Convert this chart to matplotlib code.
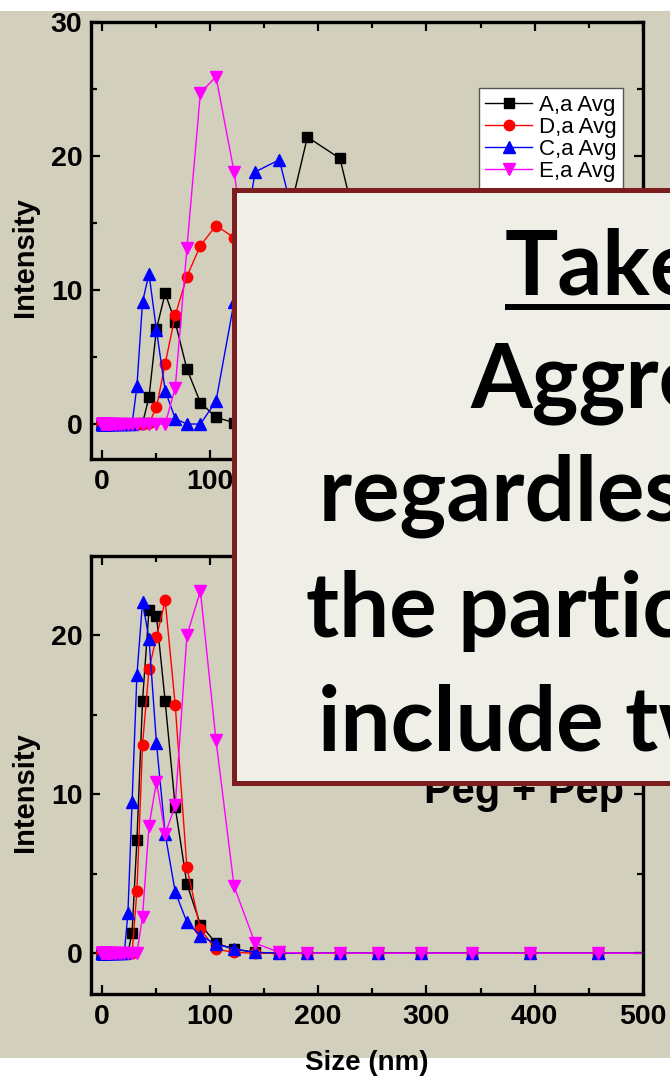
import matplotlib.pyplot as plt
from matplotlib.patches import Rectangle
from matplotlib.lines import Line2D

# DLS size bins (nm)
size_nm = [0.4, 0.4632, 0.5365, 0.6213, 0.7195, 0.8332, 0.9649, 1.117, 1.294, 1.499,
           1.736, 2.01, 2.328, 2.696, 3.122, 3.615, 4.187, 4.849, 5.615, 6.503,
           7.531, 8.721, 10.1, 11.7, 13.54, 15.69, 18.17, 21.04, 24.36, 28.21,
           32.67, 37.84, 43.82, 50.75, 58.77, 68.06, 78.82, 91.28, 105.7, 122.4,
           141.8, 164.2, 190.1, 220.2, 255.0, 295.3, 342.0, 396.1, 458.7, 531.2]

# top panel
top_A = [0, 0, 0, 0, 0, 0, 0, 0, 0, 0, 0, 0, 0, 0, 0, 0, 0, 0, 0, 0,
         0, 0, 0, 0, 0, 0, 0, 0, 0, 0,
         0, 0.05, 2.0, 7.1, 9.75, 7.6, 4.1, 1.6, 0.5, 0.1,
         3.0, 12.5, 21.4, 19.8, 8.1, 1.2, 0.1, 0, 0, 0]
top_D = [0, 0, 0, 0, 0, 0, 0, 0, 0, 0, 0, 0, 0, 0, 0, 0, 0, 0, 0, 0,
         0, 0, 0, 0, 0, 0, 0, 0, 0, 0,
         0, 0, 0.05, 1.24, 4.5, 8.1, 11.0, 13.3, 14.8, 13.9,
         10.5, 6.0, 2.5, 0.7, 0.1, 0, 0, 0, 0, 0]
top_C = [0, 0, 0, 0, 0, 0, 0, 0, 0, 0, 0, 0, 0, 0, 0, 0, 0, 0, 0, 0,
         0, 0, 0, 0, 0, 0, 0, 0, 0, 0,
         2.8, 9.1, 11.2, 7.0, 2.5, 0.4, 0, 0, 1.7, 9.1,
         18.8, 19.7, 11.3, 3.5, 0.6, 0.05, 0, 0, 0, 0]
top_E = [0, 0, 0, 0, 0, 0, 0, 0, 0, 0, 0, 0, 0, 0, 0, 0, 0, 0, 0, 0,
         0, 0, 0, 0, 0, 0, 0, 0, 0, 0,
         0, 0, 0, 0, 0, 2.7, 13.1, 24.7, 25.9, 18.8,
         8.0, 2.0, 0.3, 0, 0, 0, 0, 0, 0, 0]

# bottom panel (Peg + Pep)
bot_A = [0, 0, 0, 0, 0, 0, 0, 0, 0, 0, 0, 0, 0, 0, 0, 0, 0, 0, 0, 0,
         0, 0, 0, 0, 0, 0, 0, 0, 0, 1.3,
         7.1, 15.85, 21.6, 21.2, 15.85, 9.2, 4.36, 1.8, 0.63, 0.25,
         0.05, 0, 0, 0, 0, 0, 0, 0, 0, 0]
bot_D = [0, 0, 0, 0, 0, 0, 0, 0, 0, 0, 0, 0, 0, 0, 0, 0, 0, 0, 0, 0,
         0, 0, 0, 0, 0, 0, 0, 0, 0, 0,
         3.9, 13.1, 17.9, 19.9, 22.2, 15.6, 5.4, 1.5, 0.25, 0.05,
         0, 0, 0, 0, 0, 0, 0, 0, 0, 0]
bot_C = [0, 0, 0, 0, 0, 0, 0, 0, 0, 0, 0, 0, 0, 0, 0, 0, 0, 0, 0, 0,
         0, 0, 0, 0, 0, 0, 0, 0, 2.5, 9.5,
         17.5, 22.1, 19.8, 13.2, 7.5, 3.85, 1.96, 1.1, 0.57, 0.27,
         0.05, 0, 0, 0, 0, 0, 0, 0, 0, 0]
bot_E = [0, 0, 0, 0, 0, 0, 0, 0, 0, 0, 0, 0, 0, 0, 0, 0, 0, 0, 0, 0,
         0, 0, 0, 0, 0, 0, 0, 0, 0, 0,
         0, 2.3, 8.0, 10.8, 7.5, 9.3, 20.0, 22.8, 13.4, 4.2,
         0.63, 0.05, 0, 0, 0, 0, 0, 0, 0, 0]

labels = ['A,a Avg', 'D,a Avg', 'C,a Avg', 'E,a Avg']
colors = ['black', 'red', 'blue', 'magenta']
markers = ['s', 'o', '^', 'v']
msizes = [6.5, 7.5, 8.2, 8.2]

x_major = [0, 100, 200, 300, 400, 500]
x_major_labels_top = ['0', '100', '', '', '', '']   # the rest sit under the callout box
x_major_labels_bot = ['0', '100', '200', '300', '400', '500']

BEIGE = '#d2d0bd'
BOX_FILL = '#efefe7'
BOX_EDGE = '#7d1d20'

W, H, DPI = 670, 1081, 100

plt.rcParams['font.family'] = ['Liberation Sans', 'DejaVu Sans']

fig = plt.figure(figsize=(W / DPI, H / DPI), dpi=DPI)
fig.patch.set_facecolor('white')


def fx(x):
    return x / W


def fy(y):
    return 1 - y / H


def px_box(l, t, r, b):
    return [fx(l), fy(b), (r - l) / W, (b - t) / H]


# beige slide background
fig.add_artist(Rectangle((0, fy(1058)), 1, (1058 - 11) / H, transform=fig.transFigure,
                         facecolor=BEIGE, edgecolor='none', zorder=-5))

ax_top = fig.add_axes(px_box(90.7, 21.7, 643, 459.3))
ax_bot = fig.add_axes(px_box(90.7, 556, 643, 994))


def style(ax, ylim, yticks, yminor, xlabels):
    ax.set_facecolor(BEIGE)
    ax.set_xlim(-10, 500)
    ax.set_ylim(*ylim)
    ax.set_xticks(x_major)
    ax.set_xticklabels(xlabels)
    ax.set_xticks([50, 150, 250, 350, 450], minor=True)
    ax.set_yticks(yticks)
    ax.set_yticks(yminor, minor=True)
    for s in ax.spines.values():
        s.set_linewidth(2.4)
    ax.tick_params(which='both', direction='in', top=True, right=True, width=1.6)
    ax.tick_params(which='major', length=6.5, labelsize=20.5)
    ax.tick_params(axis='x', which='major', pad=7)
    ax.tick_params(axis='y', which='major', pad=6)
    ax.tick_params(which='minor', length=4)
    for lab in ax.get_xticklabels() + ax.get_yticklabels():
        lab.set_fontweight('bold')
    ax.set_ylabel('Intensity', fontsize=21, fontweight='bold')
    ax.yaxis.set_label_coords(-0.0934, 0.462)


def draw(ax, series):
    for ys, lab, c, m, ms in zip(series, labels, colors, markers, msizes):
        ax.plot(size_nm, ys, color=c, marker=m, markersize=ms, linewidth=1.0,
                markeredgecolor=c, label=lab)


draw(ax_top, [top_A, top_D, top_C, top_E])
draw(ax_bot, [bot_A, bot_D, bot_C, bot_E])

style(ax_top, (-2.63, 30), [0, 10, 20, 30], [5, 15, 25], x_major_labels_top)
style(ax_bot, (-2.57, 25), [0, 10, 20], [5, 15], x_major_labels_bot)

leg = ax_top.legend(loc='upper right', bbox_to_anchor=(0.9638, 0.8485), borderaxespad=0,
                    fancybox=False, edgecolor='#555555', framealpha=1, fontsize=16,
                    labelspacing=0.05, handlelength=2.1, handletextpad=0.3,
                    borderpad=0.3, numpoints=1)
leg.get_frame().set_linewidth(1.0)

ax_bot.set_xlabel('Size (nm)', fontsize=20, fontweight='bold')
ax_bot.xaxis.set_label_coords(0.5, -0.128)

fig.text(fx(624), fy(803), 'Peg + Pep', fontsize=30, fontweight='bold',
         ha='right', va='baseline', zorder=5)

# callout box laid over the plots
fig.add_artist(Rectangle((fx(234.5), fy(782.5)), (720 - 234.5) / W, (782.5 - 189.5) / H,
                         transform=fig.transFigure, facecolor=BOX_FILL,
                         edgecolor=BOX_EDGE, linewidth=3.6, zorder=10))

box_lines = ['Take-Home', 'Aggregation', 'regardless of', 'the particles', 'include two']
line_x = [504.7, 470.3, 319, 306, 318]
line_base = [294.3, 407.7, 520, 637, 750.3]
for txt, x, y in zip(box_lines, line_x, line_base):
    fig.text(fx(x), fy(y), txt, fontsize=64, fontweight='bold', family=['Lato', 'DejaVu Sans'],
             ha='left', va='baseline', zorder=11)

fig.add_artist(Line2D([fx(504.7), fx(720)], [fy(306.7), fy(306.7)], transform=fig.transFigure,
                      color='black', linewidth=4.3, solid_capstyle='butt', zorder=11))

fig.savefig('out.png', dpi=DPI)
